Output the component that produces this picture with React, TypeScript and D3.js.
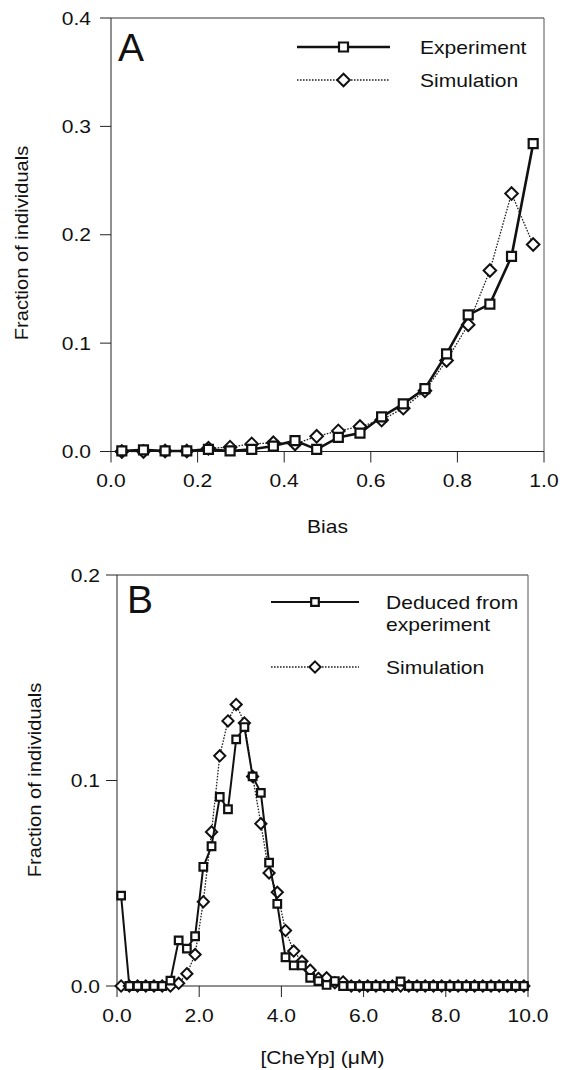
import React from "react";
import * as d3 from "d3";

// ---------- Data ----------
const biasX = [0.025, 0.075, 0.125, 0.175, 0.225, 0.275, 0.325, 0.375, 0.425, 0.475,
  0.525, 0.575, 0.625, 0.675, 0.725, 0.775, 0.825, 0.875, 0.925, 0.975];
const biasExperiment = [0.0005, 0.0015, 0.0005, 0.0005, 0.002, 0.0005, 0.002, 0.005, 0.010, 0.002,
  0.013, 0.017, 0.032, 0.044, 0.058, 0.090, 0.126, 0.136, 0.180, 0.284];
const biasSimulation = [0.0, 0.0, 0.0005, 0.0005, 0.003, 0.004, 0.007, 0.008, 0.007, 0.014,
  0.019, 0.023, 0.029, 0.040, 0.056, 0.084, 0.117, 0.167, 0.238, 0.191];
const biasTicksX = [0, 0.2, 0.4, 0.6, 0.8, 1.0];
const biasTicksY = [0, 0.1, 0.2, 0.3, 0.4];

const cheyX = [0.1, 0.3, 0.5, 0.7, 0.9, 1.1, 1.3, 1.5, 1.7, 1.9,
  2.1, 2.3, 2.5, 2.7, 2.9, 3.1, 3.3, 3.5, 3.7, 3.9,
  4.1, 4.3, 4.5, 4.7, 4.9, 5.1, 5.3, 5.5, 5.7, 5.9,
  6.1, 6.3, 6.5, 6.7, 6.9, 7.1, 7.3, 7.5, 7.7, 7.9,
  8.1, 8.3, 8.5, 8.7, 8.9, 9.1, 9.3, 9.5, 9.7, 9.9];
const cheyExperiment = [0.044, 0, 0, 0, 0, 0, 0.0026, 0.0222, 0.0182, 0.0242,
  0.058, 0.068, 0.092, 0.086, 0.120, 0.126, 0.102, 0.094, 0.060, 0.040,
  0.014, 0.010, 0.010, 0.004, 0.0024, 0.0005, 0.0024, 0, 0, 0,
  0, 0, 0, 0, 0.0022, 0, 0, 0, 0, 0,
  0, 0, 0, 0, 0, 0, 0, 0, 0, 0];
const cheySimulation = [0, 0, 0, 0, 0, 0, 0, 0.0013, 0.006, 0.0153,
  0.041, 0.075, 0.112, 0.129, 0.137, 0.128, 0.102, 0.079, 0.055, 0.0456,
  0.027, 0.017, 0.012, 0.0077, 0.0037, 0.004, 0.0016, 0.002, 0, 0,
  0, 0, 0, 0, 0, 0, 0, 0, 0, 0,
  0, 0, 0, 0, 0, 0, 0, 0, 0, 0];
const cheyTicksX = [0, 2, 4, 6, 8, 10];
const cheyTicksY = [0, 0.1, 0.2];

const FONT = "'Liberation Sans', Arial, Helvetica, sans-serif";
const SX = 1.17;

function T({ x, y, anchor = "start", size = 18, children, rotate = 0, sx = SX, len = 1 }: any) {
  const tr = rotate
    ? `translate(${x},${y}) rotate(${rotate}) scale(${len},1)`
    : `translate(${x},${y}) scale(${sx},1)`;
  return (
    <text transform={tr} textAnchor={anchor} fontFamily={FONT} fontSize={size} fill="#111">
      {children}
    </text>
  );
}

function squarePath(s: number) {
  return `M${-s / 2},${-s / 2}h${s}v${s}h${-s}Z`;
}
function diamondPath(r: number) {
  return `M0,${-r}L${r},0L0,${r}L${-r},0Z`;
}

function Panel({ xs, exp, sim, xDomain, yDomain, box, xTicks, yTicks, xFmt, yFmt, letter, letterPos,
  legend, xTitle, xTitleY, yTitleX, yTitleY, sq, dia, expW, yLabGap }: any) {
  const x = d3.scaleLinear().domain(xDomain).range([box.left, box.right]);
  const y = d3.scaleLinear().domain(yDomain).range([box.bottom, box.top]);
  const line = d3.line<number>().x((_, i) => x(xs[i])).y((d) => y(d));
  const simPts = sim.map((v: number, i: number) => [x(xs[i]), y(v)]);
  const expPts = exp.map((v: number, i: number) => [x(xs[i]), y(v)]);
  return (
    <g>
      {/* frame */}
      <line x1={box.left} x2={box.right} y1={box.top} y2={box.top} stroke="#333" strokeWidth={1} />
      <line x1={box.right} x2={box.right} y1={box.top} y2={box.bottom} stroke="#555" strokeWidth={1} />
      <line x1={box.left} x2={box.left} y1={box.top} y2={box.bottom} stroke="#222" strokeWidth={1} />
      <line x1={box.left} x2={box.right} y1={box.bottom} y2={box.bottom} stroke="#222" strokeWidth={1} />
      {yTicks.map((t: number) => (
        <g key={"y" + t}>
          <line x1={box.left - 11} x2={box.left} y1={y(t)} y2={y(t)} stroke="#222" strokeWidth={1} />
          <T x={box.left - yLabGap} y={y(t) + 6.5} anchor="end">{yFmt(t)}</T>
        </g>
      ))}
      {xTicks.map((t: number) => (
        <g key={"x" + t}>
          <line x1={x(t)} x2={x(t)} y1={box.bottom} y2={box.bottom + 11} stroke="#222" strokeWidth={1} />
          <T x={x(t)} y={box.bottom + 35.5} anchor="middle">{xFmt(t)}</T>
        </g>
      ))}
      <T x={(box.left + box.right) / 2} y={xTitleY} anchor="middle">{xTitle}</T>
      <T x={yTitleX} y={yTitleY} anchor="middle" rotate={-90} size={19} len={1.06}>Fraction of individuals</T>
      <T x={letterPos[0]} y={letterPos[1]} size={39} sx={1}>{letter}</T>

      {/* simulation */}
      <path d={line(sim) || ""} fill="none" stroke="#222" strokeWidth={1.3} strokeDasharray="1.6,1.4" />
      {simPts.map((p: number[], i: number) => (
        <path key={"s" + i} d={diamondPath(dia)} transform={`translate(${p[0]},${p[1]})`}
          fill="#fff" stroke="#111" strokeWidth={2} />
      ))}
      {/* experiment */}
      <path d={line(exp) || ""} fill="none" stroke="#111" strokeWidth={expW} />
      {expPts.map((p: number[], i: number) => (
        <path key={"e" + i} d={squarePath(sq)} transform={`translate(${p[0]},${p[1]})`}
          fill="#fff" stroke="#111" strokeWidth={2.2} />
      ))}

      {/* legend */}
      <g>
        <line x1={legend.x1} x2={legend.x2} y1={legend.y1} y2={legend.y1} stroke="#111" strokeWidth={expW} />
        <path d={squarePath(sq)} transform={`translate(${(legend.x1 + legend.x2) / 2},${legend.y1})`}
          fill="#fff" stroke="#111" strokeWidth={2.2} />
        <line x1={legend.x1} x2={legend.x2} y1={legend.y2} y2={legend.y2} stroke="#222" strokeWidth={1.3} strokeDasharray="1.6,1.4" />
        <path d={diamondPath(dia)} transform={`translate(${(legend.x1 + legend.x2) / 2},${legend.y2})`}
          fill="#fff" stroke="#111" strokeWidth={2} />
        {legend.labels1.map((s: string, i: number) => (
          <T key={"l1" + i} x={legend.tx} y={legend.ty1 + i * 22}>{s}</T>
        ))}
        <T x={legend.tx} y={legend.ty2}>{legend.label2}</T>
      </g>
    </g>
  );
}

export default function App() {
  const f1 = d3.format(".1f");
  return (
    <svg width={567} height={1070} style={{ display: "block", background: "#fff", margin: "-8px 0 0 -8px" }}>
      <g>
        <Panel xs={biasX} exp={biasExperiment} sim={biasSimulation}
          xDomain={[0, 1]} yDomain={[0, 0.4]}
          box={{ left: 111, right: 544, top: 18, bottom: 451.5 }}
          xTicks={biasTicksX} yTicks={biasTicksY} xFmt={f1} yFmt={f1}
          letter="A" letterPos={[118, 61]}
          legend={{ x1: 297, x2: 390, y1: 47, y2: 80, tx: 420, ty1: 53.5, ty2: 86.5,
            labels1: ["Experiment"], label2: "Simulation" }}
          xTitle="Bias" xTitleY={533} yTitleX={28} yTitleY={243}
          sq={9} dia={6.3} expW={2.6} yLabGap={20} />
        <Panel xs={cheyX} exp={cheyExperiment} sim={cheySimulation}
          xDomain={[0, 10]} yDomain={[0, 0.2]}
          box={{ left: 117, right: 528, top: 575, bottom: 986 }}
          xTicks={cheyTicksX} yTicks={cheyTicksY} xFmt={f1} yFmt={f1}
          letter="B" letterPos={[127, 613]}
          legend={{ x1: 271, x2: 359, y1: 602, y2: 667, tx: 386, ty1: 609, ty2: 673.5,
            labels1: ["Deduced from", "experiment"], label2: "Simulation" }}
          xTitle="[CheYp] (μM)" xTitleY={1064} yTitleX={41} yTitleY={780}
          sq={7.6} dia={5.6} expW={2} yLabGap={17} />
      </g>
    </svg>
  );
}
